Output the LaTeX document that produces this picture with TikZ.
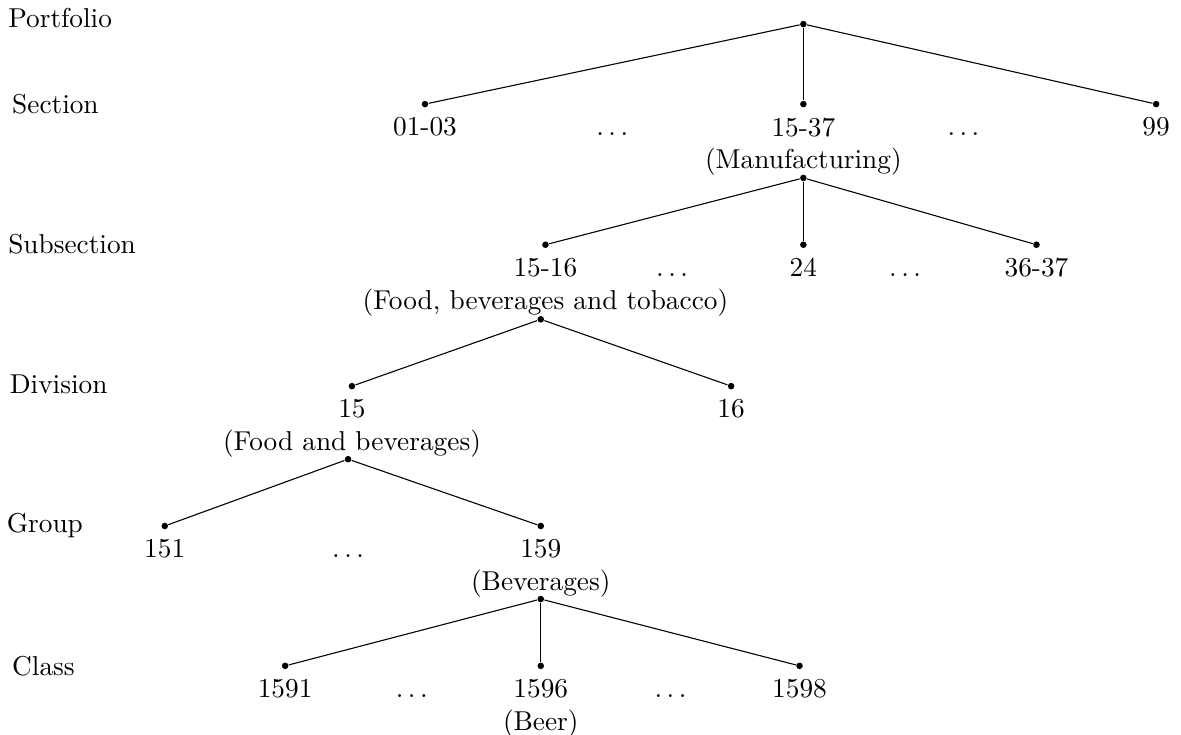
\documentclass[tikz,border=0pt]{standalone}
\usepackage{tikz}
\usetikzlibrary{positioning}

\begin{document}
\begin{tikzpicture}[
    dot/.style={circle, fill=black, inner sep=0pt, minimum size=2.4pt},
    lbl/.style={align=center, inner sep=3.33pt},
    level/.style={anchor=base west, inner sep=0pt},
    edge/.style={thin, draw=black}
  ]
  \useasboundingbox (0,0) rectangle (15.20,-9.45);

  % level names
  \node[level] (lvPort) at (0.10,-0.36) {Portfolio};
  \node[level] (lvSec) at (0.15,-1.455) {Section};
  \node[level] (lvSub) at (0.10,-3.26) {Subsection};
  \node[level] (lvDiv) at (0.12,-5.07) {Division};
  \node[level] (lvGrp) at (0.08,-6.85) {Group};
  \node[level] (lvCls) at (0.15,-8.69) {Class};

  % portfolio -> sections
  \node[dot] (root) at (10.34,-0.31) {};
  \node[dot] (sec1) at (5.47,-1.34) {};
  \node[dot] (sec2) at (10.34,-1.34) {};
  \node[dot] (sec3) at (14.88,-1.34) {};
  \node[lbl, below=0pt of sec1] (sec1t) {01-03};
  \node[lbl, below=0pt of sec2] (sec2t) {15-37\\(Manufacturing)};
  \node[lbl, below=0pt of sec3] (sec3t) {99};
  \node[lbl, anchor=base] (secd1) at (7.88,0 |- sec1t.base) {$\ldots$};
  \node[lbl, anchor=base] (secd2) at (12.40,0 |- sec1t.base) {$\ldots$};
  \draw[edge] (root) -- (sec1);
  \draw[edge] (root) -- (sec2);
  \draw[edge] (root) -- (sec3);

  % manufacturing -> subsections
  \node[dot] (manu) at (10.34,-2.29) {};
  \node[dot] (sub1) at (7.02,-3.15) {};
  \node[dot] (sub2) at (10.34,-3.15) {};
  \node[dot] (sub3) at (13.34,-3.15) {};
  \node[lbl, below=0pt of sub1] (sub1t) {15-16\\(Food, beverages and tobacco)};
  \node[lbl, below=0pt of sub2] (sub2t) {24};
  \node[lbl, below=0pt of sub3] (sub3t) {36-37};
  \node[lbl, anchor=base] (subd1) at (8.65,0 |- sub2t.base) {$\ldots$};
  \node[lbl, anchor=base] (subd2) at (11.65,0 |- sub2t.base) {$\ldots$};
  \draw[edge] (manu) -- (sub1);
  \draw[edge] (manu) -- (sub2);
  \draw[edge] (manu) -- (sub3);

  % food, beverages and tobacco -> divisions
  \node[dot] (fbt) at (6.96,-4.11) {};
  \node[dot] (div1) at (4.53,-4.97) {};
  \node[dot] (div2) at (9.41,-4.97) {};
  \node[lbl, below=0pt of div1] (div1t) {15\\(Food and beverages)};
  \node[lbl, below=0pt of div2] (div2t) {16};
  \draw[edge] (fbt) -- (div1);
  \draw[edge] (fbt) -- (div2);

  % food and beverages -> groups
  \node[dot] (fab) at (4.48,-5.91) {};
  \node[dot] (grp1) at (2.12,-6.77) {};
  \node[dot] (grp2) at (6.96,-6.77) {};
  \node[lbl, below=0pt of grp1] (grp1t) {151};
  \node[lbl, below=0pt of grp2] (grp2t) {159\\(Beverages)};
  \node[lbl, anchor=base] (grpd1) at (4.48,0 |- grp1t.base) {$\ldots$};
  \draw[edge] (fab) -- (grp1);
  \draw[edge] (fab) -- (grp2);

  % beverages -> classes
  \node[dot] (bev) at (6.96,-7.71) {};
  \node[dot] (cls1) at (3.67,-8.57) {};
  \node[dot] (cls2) at (6.96,-8.57) {};
  \node[dot] (cls3) at (10.29,-8.57) {};
  \node[lbl, below=0pt of cls1] (cls1t) {1591};
  \node[lbl, below=0pt of cls2] (cls2t) {1596\\(Beer)};
  \node[lbl, below=0pt of cls3] (cls3t) {1598};
  \node[lbl, anchor=base] (clsd1) at (5.30,0 |- cls1t.base) {$\ldots$};
  \node[lbl, anchor=base] (clsd2) at (8.63,0 |- cls1t.base) {$\ldots$};
  \draw[edge] (bev) -- (cls1);
  \draw[edge] (bev) -- (cls2);
  \draw[edge] (bev) -- (cls3);
\end{tikzpicture}
\end{document}
